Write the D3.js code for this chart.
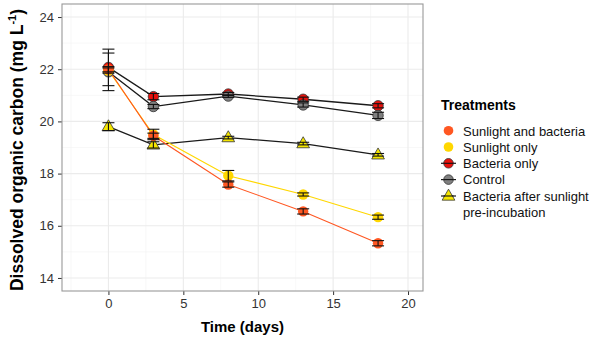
<!DOCTYPE html>
<html>
<head>
<meta charset="utf-8">
<title>Dissolved organic carbon</title>
<style>
  body { margin: 0; background: #fff; }
  svg { font-family: "Liberation Sans", Arial, sans-serif; }
  .tick text { font-size: 13px; fill: #333; }
</style>
<script src="https://d3js.org/d3.v7.min.js"></script>
</head>
<body>
<svg id="chart" width="600" height="341"></svg>
<script>
// sampling days
var days = [0, 3, 8, 13, 18];

var treatments = ["Sunlight and bacteria", "Sunlight only", "Bacteria only", "Control", "Bacteria after sunlight pre-incubation"];

// mean DOC (mg/L) per treatment, and error half-widths
var sunBact     = [22.00, 19.45, 17.58, 16.55, 15.33];
var sunBactErr  = [0.10, 0.10, 0.10, 0.10, 0.10];
var sunOnly     = [21.95, 19.50, 17.92, 17.20, 16.33];
var sunOnlyErr  = [0.10, 0.20, 0.20, 0.06, 0.08];
var bactOnly    = [22.07, 20.95, 21.05, 20.85, 20.60];
var bactOnlyErr = [0.70, 0.12, 0.06, 0.08, 0.08];
var control     = [21.90, 20.57, 20.97, 20.63, 20.23];
var controlErr  = [0.72, 0.08, 0.05, 0.08, 0.12];
var preInc      = [19.80, 19.10, 19.38, 19.15, 18.72];
var preIncErr   = [0.15, 0.12, 0.05, 0.05, 0.05];

var xTicks = [0, 5, 10, 15, 20];
var yTicks = [14, 16, 18, 20, 22, 24];

var series = [
  {name: treatments[0], values: sunBact,  err: sunBactErr,  line: "#ff5722", fill: "#ff5722", stroke: "none",  shape: "circle"},
  {name: treatments[1], values: sunOnly,  err: sunOnlyErr,  line: "#ffd700", fill: "#ffd700", stroke: "none",  shape: "circle"},
  {name: treatments[2], values: bactOnly, err: bactOnlyErr, line: "#1a1a1a", fill: "#e8110c", stroke: "#333", shape: "circle"},
  {name: treatments[3], values: control,  err: controlErr,  line: "#1a1a1a", fill: "#808080", stroke: "#333", shape: "circle"},
  {name: treatments[4], values: preInc,   err: preIncErr,   line: "#1a1a1a", fill: "#f5e600", stroke: "#333", shape: "triangle"}
];

var svg = d3.select("#chart");
var panel = {left: 62, right: 423, top: 4, bottom: 291};

var x = d3.scaleLinear().domain([-3.1, 21]).range([panel.left, panel.right]);
var y = d3.scaleLinear().domain([13.5, 24.5]).range([panel.bottom, panel.top]);

// grid
var grid = svg.append("g");
var xMinor = [-2.5, 2.5, 7.5, 12.5, 17.5];
var yMinor = [15, 17, 19, 21, 23];
grid.selectAll(".xminor").data(xMinor).enter().append("line")
  .attr("x1", x).attr("x2", x).attr("y1", panel.top).attr("y2", panel.bottom)
  .attr("stroke", "#f4f4f4").attr("stroke-width", 0.6);
grid.selectAll(".yminor").data(yMinor).enter().append("line")
  .attr("y1", y).attr("y2", y).attr("x1", panel.left).attr("x2", panel.right)
  .attr("stroke", "#f4f4f4").attr("stroke-width", 0.6);
grid.selectAll(".xmajor").data(xTicks).enter().append("line")
  .attr("x1", x).attr("x2", x).attr("y1", panel.top).attr("y2", panel.bottom)
  .attr("stroke", "#ebebeb").attr("stroke-width", 1.1);
grid.selectAll(".ymajor").data(yTicks).enter().append("line")
  .attr("y1", y).attr("y2", y).attr("x1", panel.left).attr("x2", panel.right)
  .attr("stroke", "#ebebeb").attr("stroke-width", 1.1);

// axes
var xAxis = svg.append("g").attr("transform", "translate(0," + panel.bottom + ")")
  .call(d3.axisBottom(x).tickValues(xTicks).tickSize(4).tickPadding(4));
var yAxis = svg.append("g").attr("transform", "translate(" + panel.left + ",0)")
  .call(d3.axisLeft(y).tickValues(yTicks).tickSize(4).tickPadding(4));
[xAxis, yAxis].forEach(function(a) {
  a.select(".domain").remove();
  a.selectAll(".tick line").attr("stroke", "#333");
});

// lines
var line = d3.line()
  .x(function(d) { return x(d.t); })
  .y(function(d) { return y(d.v); });

function pts(s) {
  return days.map(function(t, i) { return {t: t, v: s.values[i], e: s.err[i], s: s}; });
}

var drawOrder = [2, 3, 4, 1, 0];

drawOrder.forEach(function(k) {
  var s = series[k];
  svg.append("path").datum(pts(s))
    .attr("d", line)
    .attr("fill", "none")
    .attr("stroke", s.line)
    .attr("stroke-width", s.stroke === "none" ? 1.1 : 1.3);
});

var tri = d3.symbol().type(d3.symbolTriangle).size(70);

function drawPoint(g, s, cx, cy, r) {
  if (s.shape === "circle") {
    g.append("circle").attr("cx", cx).attr("cy", cy).attr("r", r)
      .attr("fill", s.fill).attr("stroke", s.stroke).attr("stroke-width", 0.8);
  } else {
    g.append("path").attr("d", tri).attr("transform", "translate(" + cx + "," + (cy + 0.5) + ")")
      .attr("fill", s.fill).attr("stroke", s.stroke).attr("stroke-width", 0.8);
  }
}

drawOrder.forEach(function(k) {
  var s = series[k];
  var g = svg.append("g");
  pts(s).forEach(function(p) { drawPoint(g, s, x(p.t), y(p.v), 5.2); });
});

// error bars
var capW = 6;
series.forEach(function(s) {
  var g = svg.append("g").attr("stroke", "#111").attr("stroke-width", 1.1);
  pts(s).forEach(function(p) {
    var cx = x(p.t), lo = y(p.v - p.e), hi = y(p.v + p.e);
    g.append("line").attr("x1", cx).attr("x2", cx).attr("y1", lo).attr("y2", hi);
    g.append("line").attr("x1", cx - capW).attr("x2", cx + capW).attr("y1", lo).attr("y2", lo);
    g.append("line").attr("x1", cx - capW).attr("x2", cx + capW).attr("y1", hi).attr("y2", hi);
  });
});

// panel border
svg.append("rect")
  .attr("x", panel.left).attr("y", panel.top)
  .attr("width", panel.right - panel.left).attr("height", panel.bottom - panel.top)
  .attr("fill", "none").attr("stroke", "#999").attr("stroke-width", 1.1);

// axis titles
svg.append("text")
  .attr("x", (panel.left + panel.right) / 2).attr("y", 332)
  .attr("text-anchor", "middle")
  .attr("font-size", 15).attr("font-weight", "bold")
  .text("Time (days)");

var yt = svg.append("text")
  .attr("transform", "translate(23,150) rotate(-90)")
  .attr("text-anchor", "middle")
  .attr("font-size", 17.5).attr("font-weight", "bold");
yt.append("tspan").text("Dissolved organic carbon (mg L");
yt.append("tspan").attr("dy", -7).attr("font-size", 11).text("-1");
yt.append("tspan").attr("dy", 7).text(")");

// legend
var legend = svg.append("g");
legend.append("text")
  .attr("x", 441).attr("y", 110)
  .attr("font-size", 14).attr("font-weight", "bold")
  .text("Treatments");

var rowY = [130.7, 147, 163.3, 179.6, 196];
series.forEach(function(s, i) {
  var cy = rowY[i];
  var g = legend.append("g");
  if (s.stroke !== "none") {
    g.append("line").attr("x1", 441).attr("x2", 456).attr("y1", cy).attr("y2", cy)
      .attr("stroke", s.line).attr("stroke-width", 1.2);
  }
  drawPoint(g, s, 448.5, cy, 4.8);
  if (s.stroke !== "none") {
    g.append("line").attr("x1", 443.5).attr("x2", 453.5).attr("y1", cy).attr("y2", cy)
      .attr("stroke", "#111").attr("stroke-width", 1.1);
  }
  var label = s.name === treatments[4] ? ["Bacteria after sunlight", "pre-incubation"] : [s.name];
  label.forEach(function(t, j) {
    g.append("text").attr("x", 463).attr("y", cy + 4.8 + j * 16)
      .attr("font-size", 13).attr("fill", "#111").text(t);
  });
});
</script>
</body>
</html>
